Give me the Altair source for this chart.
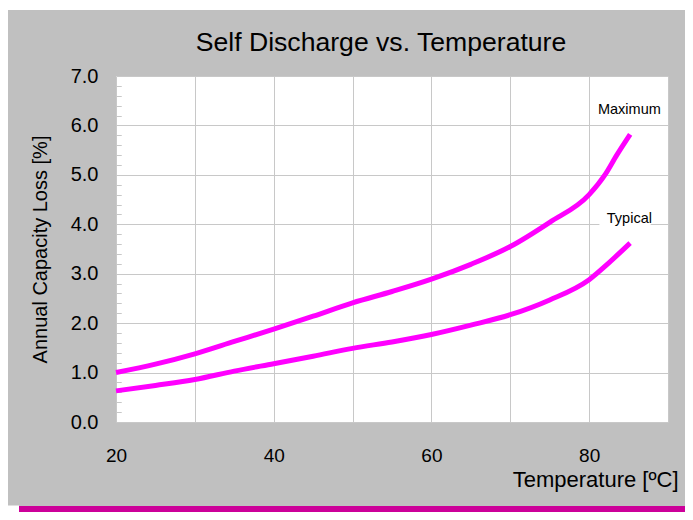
import altair as alt
import pandas as pd

# ---- data ----
temps_max = [20, 25, 30, 35, 40, 45, 50, 55, 60, 65, 70, 75, 80, 82, 83.5, 85.2]
max_vals = [1.0, 1.17, 1.38, 1.63, 1.88, 2.14, 2.41, 2.64, 2.89, 3.19, 3.55, 4.04, 4.6, 5.0, 5.4, 5.82]
temps_typ = [20, 25, 30, 35, 40, 45, 50, 55, 60, 65, 70, 75, 80, 82.5, 85.2]
typ_vals = [0.63, 0.74, 0.86, 1.03, 1.18, 1.33, 1.49, 1.62, 1.77, 1.96, 2.17, 2.47, 2.88, 3.22, 3.62]

y_ticks = [0, 1, 2, 3, 4, 5, 6, 7]
x_ticks = [20, 30, 40, 50, 60, 70, 80, 90]
minor_ticks = [round(i * 0.2, 1) for i in range(1, 35) if i % 5 != 0]

label_text = ["Maximum", "Typical"]
label_x = [85.1, 85.1]
label_y = [6.24, 4.03]

W, H = 552, 346
FONT = "Liberation Sans"
MAGENTA = "#ff00ff"

rows = []
for t, v in zip(temps_max, max_vals):
    rows.append({"T": t, "L": v, "series": "Maximum"})
for t, v in zip(temps_typ, typ_vals):
    rows.append({"T": t, "L": v, "series": "Typical"})
df = pd.DataFrame(rows)

lbl = pd.DataFrame({"T": label_x, "L": label_y, "text": label_text})
lbl_bg = pd.DataFrame({"T": [81.3], "T2": [87.8], "L": [3.93], "L2": [4.3]})

xscale = alt.Scale(domain=[20, 90], nice=False, zero=False)
yscale = alt.Scale(domain=[0, 7], nice=False, zero=True)

x_axis = alt.Axis(
    values=x_ticks, labelExpr="(datum.value % 20 == 0 && datum.value < 90) ? datum.label : ''",
    grid=True, gridColor="#c8c8c8", gridWidth=1, ticks=False, domain=False,
    labelFontSize=19, labelFont=FONT, labelColor="#000000", labelPadding=24,
    labelFlush=False, labelOverlap=False,
    title="Temperature [ºC]", titleFont=FONT, titleFontSize=22, titleFontWeight="normal",
    titleColor="#000000", titleX=562, titleY=64, titleAlign="right", titleBaseline="alphabetic",
)
y_axis = alt.Axis(
    values=y_ticks, format=".1f", grid=True, gridColor="#c8c8c8", gridWidth=1,
    ticks=False, domain=False, labelFontSize=20, labelFont=FONT, labelColor="#000000",
    labelPadding=18, labelFlush=False, labelOverlap=False,
    title="Annual Capacity Loss [%]", titleFont=FONT, titleFontSize=20, titleFontWeight="normal",
    titleColor="#000000", titleAngle=270, titleX=-70, titleY=173, titleAlign="center",
    titleBaseline="alphabetic",
)
minor_axis = alt.Axis(
    orient="right", offset=-W, values=minor_ticks, labels=False, domain=False, grid=False,
    ticks=True, tickSize=5, tickColor="#c8c8c8", tickWidth=1, title=None,
)

lines = alt.Chart(df).mark_line(
    color=MAGENTA, strokeWidth=5, interpolate="monotone", strokeCap="butt"
).encode(
    x=alt.X("T:Q", scale=xscale, axis=x_axis),
    y=alt.Y("L:Q", scale=yscale, axis=y_axis),
    detail="series:N",
)

bg = alt.Chart(lbl_bg).mark_rect(color="white").encode(
    x=alt.X("T:Q", scale=xscale), x2="T2:Q",
    y=alt.Y("L:Q", scale=yscale, axis=minor_axis), y2="L2:Q",
)

texts = alt.Chart(lbl).mark_text(
    font=FONT, fontSize=14.5, color="#000000", align="center", baseline="alphabetic"
).encode(
    x=alt.X("T:Q", scale=xscale),
    y=alt.Y("L:Q", scale=yscale, axis=minor_axis),
    text="text:N",
)

one = alt.Data(values=[{}])
title = alt.Chart(one).mark_text(
    text="Self Discharge vs. Temperature", font=FONT, fontSize=26.6, color="#000000",
    align="center", baseline="alphabetic"
).encode(x=alt.value(265), y=alt.value(-25.5))

bar = alt.Chart(one).mark_rect(color="#cc0099").encode(
    x=alt.value(-97), x2=alt.value(577), y=alt.value(430), y2=alt.value(436)
)
bar_gap = alt.Chart(one).mark_rect(color="white").encode(
    x=alt.value(-108), x2=alt.value(-97), y=alt.value(429.5), y2=alt.value(436)
)
top_gap = alt.Chart(one).mark_rect(color="white").encode(
    x=alt.value(-108), x2=alt.value(569), y=alt.value(-68), y2=alt.value(-66)
)

chart = alt.layer(lines, bg, texts, title, bar, bar_gap, top_gap).resolve_axis(
    y="independent"
).properties(
    width=W, height=H,
    autosize=alt.AutoSizeParams(type="none"),
    padding={"left": 108, "top": 68, "right": 17, "bottom": 90},
    background="#c0c0c0",
).configure_view(stroke=None, fill="white")

chart.save("out.html", embed_options={"renderer": "svg", "actions": False})
